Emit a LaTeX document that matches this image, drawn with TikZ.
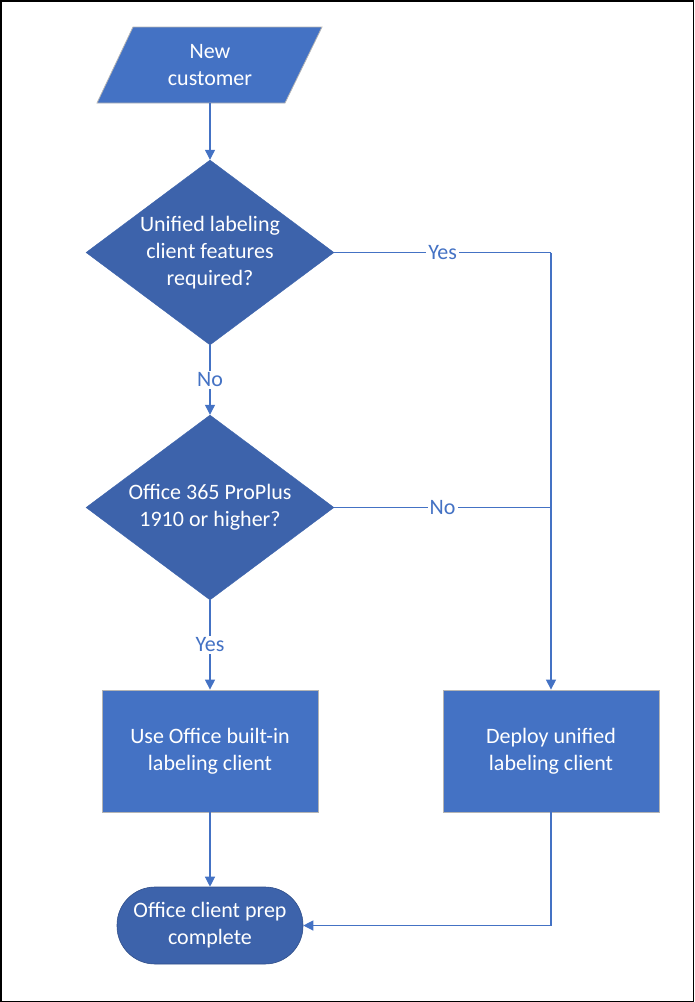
\documentclass[tikz,border=0pt]{standalone}
\usepackage{fontspec}
\setmainfont{Carlito}
\usetikzlibrary{shapes.geometric,arrows.meta}
\definecolor{boxblue}{HTML}{4472C4}
\definecolor{darkblue}{HTML}{3D63AB}
\definecolor{linegray}{HTML}{B4B4B4}
\begin{document}
\begin{tikzpicture}[x=1pt,y=-1pt,
  txt/.style={text=white,font=\fontsize{22}{27}\selectfont,align=center},
  procbox/.style={txt,draw=linegray,line width=0.8pt,fill=boxblue,minimum width=216pt,minimum height=122pt,inner sep=0pt},
  decision/.style={txt,shape=diamond,fill=darkblue,draw=darkblue,aspect=1.34,minimum width=248pt,minimum height=185pt,inner sep=0pt},
  terminal/.style={txt,fill=darkblue,draw=darkblue!80!black,line width=0.6pt,rounded corners=38pt,minimum width=186pt,minimum height=77pt,inner sep=0pt},
  conn/.style={draw=boxblue,line width=1.2pt},
  arr/.style={conn,-{Triangle[length=10pt,width=10pt]}},
  lbl/.style={fill=white,text=boxblue,font=\fontsize{22}{26}\selectfont,inner sep=2pt}]
\useasboundingbox (0,0) rectangle (694,1002);
\draw[line width=1.5pt,black] (0.75,0.75) rectangle (693.25,1001.25);
% parallelogram start
\coordinate (p1) at (133,27);
\coordinate (p2) at (322,27);
\coordinate (p3) at (285,103);
\coordinate (p4) at (97,103);
\fill[boxblue] (p1) -- (p2) -- (p3) -- (p4) -- cycle;
\draw[linegray,line width=0.8pt] (p1) -- (p2) -- (p3) -- (p4) -- cycle;
\node[txt,minimum width=188pt,minimum height=76pt,inner sep=0pt] (start) at (210,65) {New\\customer};
\node[decision] (d1) at (210,252.5) {Unified labeling\\client features\\required?};
\node[decision] (d2) at (210,507.5) {Office 365 ProPlus\\1910 or higher?};
\node[procbox] (b1) at (210,751) {Use Office built-in\\labeling client};
\node[procbox] (b2) at (551,751) {Deploy unified\\labeling client};
\node[terminal] (term) at (210,925.5) {Office client prep\\complete};
\coordinate (c1) at (b2.north |- d1.east);
\coordinate (c2) at (b2.north |- d2.east);
\draw[arr] (start.south) -- (d1.north);
\draw[arr] (d1.south) -- node[lbl]{No} (d2.north);
\draw[conn] (d1.east) -- node[lbl]{Yes} (c1);
\draw[arr] (c1) -- (b2.north);
\draw[conn] (d2.east) -- node[lbl]{No} (c2);
\draw[arr] (d2.south) -- node[lbl]{Yes} (b1.north);
\draw[arr] (b1.south) -- (term.north);
\draw[arr] (b2.south) |- (term.east);
\end{tikzpicture}
\end{document}
